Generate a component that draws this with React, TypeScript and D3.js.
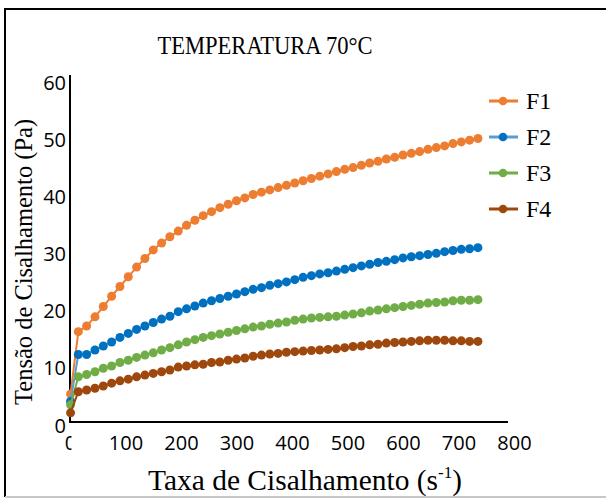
import React, { useEffect, useRef } from "react";
import * as d3 from "d3";

// shear rate (s-1)
const shearRate = [
  1, 15, 30, 45, 60, 75, 90, 105, 120, 135, 150, 165, 180, 195, 210, 225, 240, 255, 270, 285,
  300, 315, 330, 345, 360, 375, 390, 405, 420, 435, 450, 465, 480, 495, 510, 525, 540, 555, 570, 585,
  600, 615, 630, 645, 660, 675, 690, 705, 720, 735,
];

const f1 = [
  4.9, 15.8, 16.8, 18.4, 20.2, 22.0, 23.7, 25.4, 27.1, 28.6, 30.1, 31.3, 32.4, 33.4, 34.4, 35.3, 36.1, 36.8, 37.5, 38.1,
  38.7, 39.2, 39.8, 40.2, 40.6, 41.0, 41.4, 41.8, 42.2, 42.6, 43.0, 43.4, 43.8, 44.2, 44.5, 44.9, 45.3, 45.6, 46.0, 46.3,
  46.7, 47.0, 47.3, 47.7, 48.0, 48.3, 48.7, 49.0, 49.3, 49.6,
];
const f2 = [
  3.6, 11.8, 11.8, 12.6, 13.3, 14.0, 14.8, 15.5, 16.2, 16.8, 17.4, 18.0, 18.5, 19.3, 19.8, 20.3, 20.8, 21.2, 21.6, 22.0,
  22.4, 22.8, 23.2, 23.5, 23.9, 24.2, 24.5, 24.9, 25.3, 25.6, 25.9, 26.1, 26.4, 26.7, 27.0, 27.3, 27.6, 27.9, 28.1, 28.4,
  28.7, 28.9, 29.1, 29.3, 29.5, 29.8, 30.0, 30.2, 30.3, 30.5,
];
const f3 = [
  3.0, 7.9, 8.3, 8.8, 9.4, 9.8, 10.4, 10.8, 11.3, 11.7, 12.1, 12.6, 13.0, 13.5, 14.0, 14.4, 14.8, 15.1, 15.4, 15.7,
  16.0, 16.3, 16.6, 16.8, 17.1, 17.3, 17.5, 17.8, 18.0, 18.2, 18.3, 18.4, 18.5, 18.7, 18.9, 19.1, 19.4, 19.6, 19.8, 20.0,
  20.2, 20.4, 20.6, 20.8, 20.9, 21.0, 21.2, 21.3, 21.3, 21.4,
];
const f4 = [
  1.6, 5.3, 5.6, 5.9, 6.3, 6.8, 7.2, 7.5, 7.9, 8.2, 8.5, 8.8, 9.1, 9.6, 9.8, 10.0, 10.1, 10.4, 10.5, 10.8,
  11.0, 11.2, 11.5, 11.7, 11.9, 12.0, 12.2, 12.3, 12.4, 12.5, 12.6, 12.7, 12.8, 13.0, 13.2, 13.3, 13.5, 13.6, 13.8, 13.9,
  14.0, 14.1, 14.2, 14.3, 14.3, 14.3, 14.2, 14.2, 14.1, 14.1,
];

const seriesNames = ["F1", "F2", "F3", "F4"];
const seriesValues = [f1, f2, f3, f4];
const lineColors = ["#ED7D31", "#5B9BD5", "#70AD47", "#9E480E"];
const dotColors = ["#ED7D31", "#0070C0", "#70AD47", "#9E480E"];

const xTicks = [0, 100, 200, 300, 400, 500, 600, 700, 800];
const yTicks = [0, 10, 20, 30, 40, 50, 60];

const W = 606;
const H = 498;

function App() {
  const svgRef = useRef<SVGSVGElement>(null);

  useEffect(() => {
    const svg = d3.select(svgRef.current);
    svg.selectAll("*").remove();

    const x = d3.scaleLinear().domain([0, 800]).range([70, 514]);
    const y = d3.scaleLinear().domain([0, 60]).range([422, 79]);

    // frame
    svg.append("path").attr("d", `M5,497 V9 H${W}`).attr("fill", "none").attr("stroke", "#000").attr("stroke-width", 2);
    svg.append("line").attr("x1", 5).attr("x2", W).attr("y1", 497).attr("y2", 497).attr("stroke", "#c8c8c8").attr("stroke-width", 2);

    svg.append("text")
      .attr("x", 265).attr("y", 54)
      .attr("text-anchor", "middle")
      .attr("font-family", "Liberation Serif, serif")
      .attr("font-size", 26)
      .attr("textLength", 215).attr("lengthAdjust", "spacingAndGlyphs")
      .text("TEMPERATURA 70°C");

    // axes
    const yAxis = d3.axisLeft(y).tickValues(yTicks).tickSize(0).tickPadding(4);
    const gy = svg.append("g").attr("transform", "translate(70,0)").call(yAxis);
    gy.select(".domain").remove();
    gy.selectAll("text").attr("font-family", "Open Sans, sans-serif").attr("font-size", 20).attr("fill", "#000").attr("dy", "0.5em");

    // the "0" under the x axis is cut in half in the original
    svg.append("clipPath").attr("id", "x0clip").append("rect").attr("x", -20).attr("y", 0).attr("width", 21).attr("height", 50);

    const xAxis = d3.axisBottom(x).tickValues(xTicks).tickSize(0).tickPadding(22);
    const gx = svg.append("g").attr("transform", "translate(0,422)").call(xAxis);
    gx.select(".domain").remove();
    gx.selectAll("text").attr("font-family", "Open Sans, sans-serif").attr("font-size", 20).attr("fill", "#000").attr("dy", "0.32em");
    gx.selectAll(".tick").filter((d: any) => d === 0).select("text").attr("clip-path", "url(#x0clip)");

    svg.append("line").attr("x1", 70).attr("x2", 70).attr("y1", 75).attr("y2", 423).attr("stroke", "#000").attr("stroke-width", 2);
    svg.append("line").attr("x1", 69).attr("x2", 508).attr("y1", 422).attr("y2", 422).attr("stroke", "#000").attr("stroke-width", 2);

    // axis titles
    svg.append("text")
      .attr("x", 148).attr("y", 490)
      .attr("font-family", "Liberation Serif, serif")
      .attr("font-size", 29)
      .call((t) => {
        t.append("tspan").attr("textLength", 290).attr("lengthAdjust", "spacingAndGlyphs").text("Taxa de Cisalhamento (s");
        t.append("tspan").attr("font-size", 17).attr("dy", -12).text("-1");
        t.append("tspan").attr("dy", 12).text(")");
      });

    svg.append("text")
      .attr("transform", "translate(32,405) rotate(-90)")
      .attr("font-family", "Liberation Serif, serif")
      .attr("font-size", 24.5)
      .text("Tensão de Cisalhamento (Pa)");

    // series
    const lineGen = d3.line<number>().x((d, i) => x(shearRate[i])).y((d) => y(d));
    seriesValues.forEach((vals, s) => {
      const g = svg.append("g");
      g.append("path").attr("d", lineGen(vals)).attr("fill", "none").attr("stroke", lineColors[s]).attr("stroke-width", 2);
      g.selectAll("circle")
        .data(vals)
        .join("circle")
        .attr("cx", (d, i) => x(shearRate[i]))
        .attr("cy", (d) => y(d))
        .attr("r", 4.5)
        .attr("fill", dotColors[s]);
    });

    // legend
    seriesNames.forEach((name, s) => {
      const ly = 101 + s * 36;
      svg.append("line").attr("x1", 489).attr("x2", 518).attr("y1", ly).attr("y2", ly).attr("stroke", lineColors[s]).attr("stroke-width", 3);
      svg.append("circle").attr("cx", 503).attr("cy", ly).attr("r", 4.3).attr("fill", dotColors[s]);
      svg.append("text")
        .attr("x", 526).attr("y", ly + 8)
        .attr("font-family", "Liberation Serif, serif")
        .attr("font-size", 24)
        .text(name);
    });
  }, []);

  return (
    <svg
      ref={svgRef}
      width={W}
      height={H}
      style={{ position: "absolute", left: 0, top: 0, background: "#fff" }}
    />
  );
}

export default App;
